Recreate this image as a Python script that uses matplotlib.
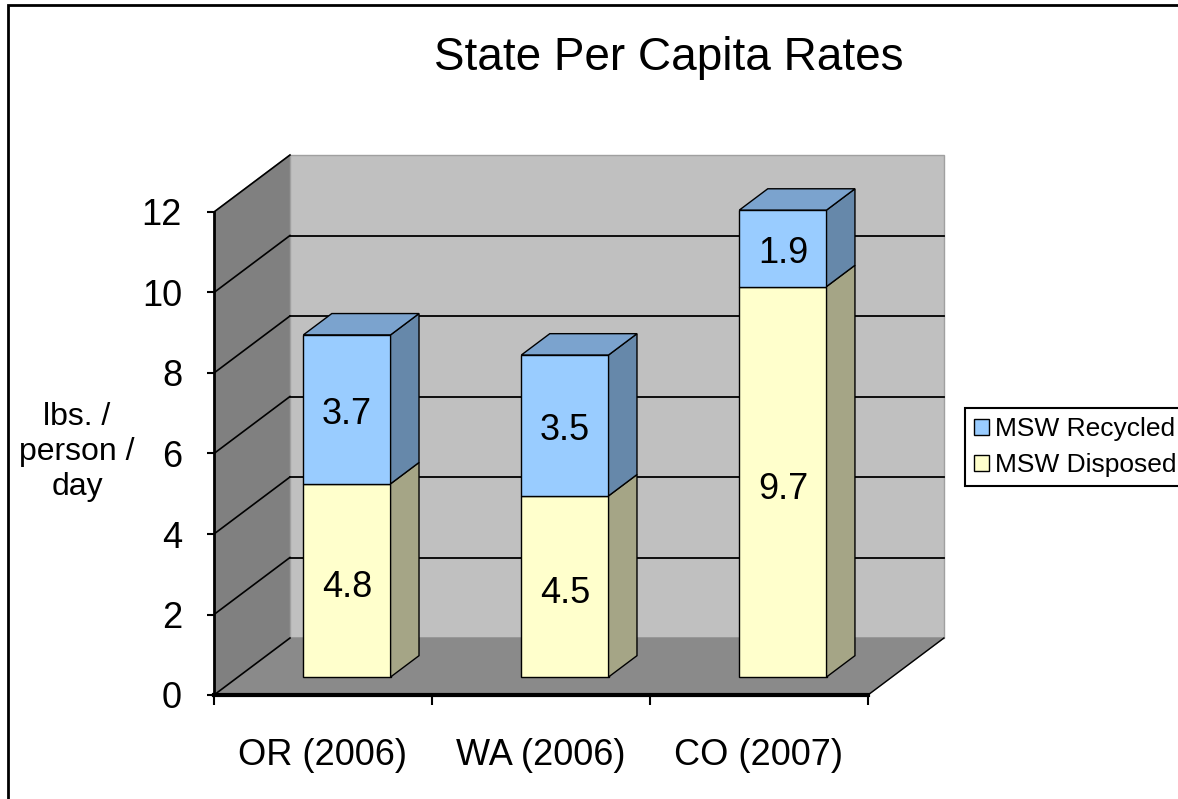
import matplotlib
matplotlib.use('Agg')
import matplotlib.pyplot as plt
import numpy as np
from matplotlib.patches import Rectangle

plt.rcParams['font.family'] = ['Liberation Sans', 'DejaVu Sans']

# data
states = ['OR (2006)', 'WA (2006)', 'CO (2007)']
disposed = np.array([4.8, 4.5, 9.7])
recycled = np.array([3.7, 3.5, 1.9])
yticks = np.arange(0, 13, 2)
ymax = 12

# fake 3d box: depth vector in data units, bar front/back depth fractions
DX, DY = 0.3486, 1.416
f0, f1 = 0.316, 0.69
W = 0.4

fig = plt.figure(figsize=(11.78, 7.99), dpi=100)
ax = fig.add_axes([214/1178, 104/799, 752/1178, 547.4/799])
ax.set_xlim(0, 3.45)
ax.set_ylim(0, 13.6)
ax.patch.set_visible(False)

# walls + floor
ax.fill([0, DX, DX, 0], [0, DY, ymax+DY, ymax], color='#808080', zorder=1)
ax.fill([DX, 3+DX, 3+DX, DX], [DY, DY, ymax+DY, ymax+DY], color='#C0C0C0',
        ec='#A0A0A0', lw=1, zorder=1)
ax.fill([0, 3, 3+DX, DX], [0, 0, DY, DY], color='#8A8A8A', zorder=1)
ax.plot([3, 3+DX], [0, DY], color='black', lw=1, zorder=2)

# gridlines
for v in yticks:
    ax.plot([0, DX], [v, v+DY], color='black', lw=1.2, zorder=2)
    if 0 < v < ymax:
        ax.plot([DX, 3+DX], [v+DY, v+DY], color='black', lw=1.3, zorder=2)

# bars
xc = np.arange(len(states)) + 0.5 + f0*DX
y0 = f0*DY
dx = (f1-f0)*DX
dy = (f1-f0)*DY
dis_bars = ax.bar(xc, disposed, W, bottom=y0, color='#FFFFCC', edgecolor='black', lw=1, zorder=3)
rec_bars = ax.bar(xc, recycled, W, bottom=y0+disposed, color='#99CCFF', edgecolor='black', lw=1, zorder=3)

for i in range(len(states)):
    x1 = xc[i] + W/2
    for bot, h, side in [(0, disposed[i], '#A5A586'), (disposed[i], recycled[i], '#6688AA')]:
        b = y0 + bot
        ax.fill([x1, x1+dx, x1+dx, x1], [b, b+dy, b+h+dy, b+h], color=side,
                ec='black', lw=1, zorder=3)
    top = y0 + disposed[i] + recycled[i]
    ax.fill([x1-W, x1, x1+dx, x1-W+dx], [top, top, top+dy, top+dy], color='#7BA3CE',
            ec='black', lw=1, zorder=3)
    ax.text(xc[i], y0 + disposed[i]/2 - 0.18, f'{disposed[i]:.1f}', ha='center', va='center',
            fontsize=26, zorder=4)
    ax.text(xc[i], y0 + disposed[i] + recycled[i]/2 - 0.12, f'{recycled[i]:.1f}', ha='center',
            va='center', fontsize=26, zorder=4)

# axes
for s in ['top', 'right']:
    ax.spines[s].set_visible(False)
ax.spines['left'].set_bounds(0, ymax)
ax.spines['bottom'].set_bounds(0, 3)
ax.spines['left'].set_linewidth(2)
ax.spines['bottom'].set_linewidth(3)
ax.set_yticks(yticks)
ax.tick_params(axis='y', length=5, width=1.5, labelsize=26, pad=18)
ax.set_xticks([0, 1, 2, 3])
ax.set_xticklabels([])
ax.tick_params(axis='x', which='major', length=7, width=1.5)
ax.set_xticks([0.5, 1.5, 2.5], minor=True)
ax.set_xticklabels(states, minor=True)
ax.tick_params(axis='x', which='minor', length=0, labelsize=26, pad=31)

fig.text(77/1178, 1-452/799, 'lbs. /\nperson /\nday', ha='center', va='center',
         multialignment='center', fontsize=23, linespacing=1.2)
fig.text(669/1178, 1-58/799, 'State Per Capita Rates', ha='center', va='center', fontsize=33)

leg = ax.legend([rec_bars, dis_bars], ['MSW Recycled', 'MSW Disposed'], loc='upper left',
                bbox_to_anchor=(965/1178, 1-408/799), bbox_transform=fig.transFigure,
                fontsize=19, fancybox=False, edgecolor='black', framealpha=1,
                handlelength=0.55, handleheight=0.55, handletextpad=0.25, borderpad=0.35,
                labelspacing=0.45, borderaxespad=0)
leg.get_frame().set_linewidth(1.5)

fig.add_artist(Rectangle((8/1178, -0.1), 1.2, 1-5/799+0.1, transform=fig.transFigure,
                         fill=False, ec='black', lw=2))

fig.savefig('out.png', dpi=100)
